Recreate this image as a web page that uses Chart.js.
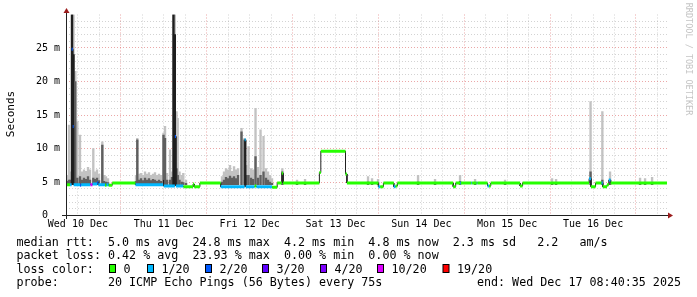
<!DOCTYPE html>
<html>
<head>
<meta charset="utf-8">
<script src="https://cdn.jsdelivr.net/npm/chart.js@4.4.1/dist/chart.umd.min.js"></script>
<style>
  html, body { margin: 0; padding: 0; background: #fff; }
  canvas { display: block; }
</style>
</head>
<body>
<canvas id="smoke" width="697" height="297"></canvas>
<script>
// x is hours since Wed 10 Dec 00:00, y is ms
const startHour = 8.67;
const endHour = 176.67;
const dayLabels = ["Wed 10 Dec", "Thu 11 Dec", "Fri 12 Dec", "Sat 13 Dec", "Sun 14 Dec", "Mon 15 Dec", "Tue 16 Dec"];
const yLabelValues = [0, 5, 10, 15, 20, 25];
const yLabels = ["0  ", "5 m", "10 m", "15 m", "20 m", "25 m"];

// median rtt as steps: start hour, value (ms), lost pings out of 20
const medianStart = [8.67, 9.8, 10.25, 10.55, 10.8, 12.6, 12.9, 15.5, 16.1, 17.4, 17.7, 19.6, 20.0, 20.6, 21.6,
  28.1, 35.8, 36.0, 39.1, 39.4, 41.5, 44.2, 44.5, 46.1,
  51.9, 58.6, 58.9, 61.4, 61.9, 66.3, 67.7, 69.0, 69.35,
  79.5, 79.9, 86.8, 87.2, 96.0, 96.5, 97.4, 100.3, 100.8, 101.3,
  116.9, 117.6, 118.9, 119.1, 122.0, 122.2, 123.5, 123.7, 126.5, 126.9, 127.4, 135.6, 136.3,
  154.9, 155.4, 156.7, 158.4, 158.7, 159.9, 160.4, 160.9];
const medianValue = [4.6, 4.6, 24.8, 13.3, 4.6, 4.5, 4.6, 4.6, 4.7, 4.9, 4.6, 4.5, 4.6, 4.5, 4.85,
  4.6, 5.3, 4.4, 11.8, 4.4, 4.3, 4.7, 4.3, 4.85,
  4.3, 11.3, 4.3, 4.4, 4.3, 4.2, 4.85, 6.3, 4.85,
  6.4, 9.6, 6.2, 4.85, 4.3, 4.3, 4.85, 4.3, 4.4, 4.85,
  4.3, 4.85, 4.85, 4.85, 4.85, 4.85, 4.85, 4.85, 4.4, 4.4, 4.85, 4.4, 4.85,
  5.5, 4.3, 4.85, 4.85, 4.3, 4.6, 5.3, 4.85];
const medianLoss = [0, 1, 2, 2, 1, 2, 1, 10, 1, 2, 1, 0, 1, 0, 0,
  1, 2, 1, 2, 1, 0, 0, 0, 0,
  1, 1, 1, 0, 1, 0, 0, 0, 0,
  0, 0, 0, 0, 1, 0, 0, 1, 0, 0,
  0, 0, 1, 0, 1, 0, 1, 0, 1, 0, 0, 0, 0,
  1, 0, 0, 1, 0, 0, 1, 0];

// smoke: hour, highest ping (ms), top of the dense part (ms)
const smokeHour = [8.95, 9.51, 9.93, 10.35, 10.77, 11.27, 11.83, 12.58, 13.14, 13.7, 14.26, 14.82, 15.38, 16.3, 16.78, 17.34, 17.9, 18.82, 19.29, 19.85, 20.41,
  28.24, 28.6, 29.08, 29.64, 30.2, 30.76, 31.31, 31.87, 32.43, 32.99, 33.55, 34.11, 34.67, 35.23, 35.93, 36.35, 36.91, 37.75, 38.3, 38.72, 39.09, 39.57, 39.9, 40.4, 41.02, 41.46, 42.22,
  52.28, 52.84, 53.4, 53.96, 54.52, 55.08, 55.64, 56.2, 56.76, 57.73, 58.57, 59.13, 59.69, 60.39, 60.95, 61.65, 62.35, 63.05, 63.88, 64.58, 65.14, 65.7, 66.26,
  69.14, 73.25, 75.49, 93.1, 94.22, 95.9, 107.08, 111.83, 118.82, 123.02, 131.4, 144.54, 145.66, 155.3, 158.6, 160.75, 169.14, 170.54, 172.5];
const smokeMax = [6.0, 13.5, 6.5, 30, 30, 21.5, 14, 12, 6.5, 6.8, 6.6, 7.2, 6.8, 10, 6.5, 6.8, 6.2, 11, 6.0, 5.8, 5.5,
  6.0, 11.5, 6.2, 6.3, 6.0, 6.5, 6.2, 6.4, 6.0, 6.2, 6.4, 6.0, 6.2, 6.0, 12.3, 13.3, 6.3, 9.8, 6.5, 30, 30, 15.5, 14.5, 6.5, 6.0, 6.3, 5.3,
  5.8, 6.5, 7.0, 6.8, 7.5, 6.6, 7.3, 6.8, 7.0, 13, 11.5, 7.5, 10.3, 7.0, 6.8, 16, 7.2, 12.8, 11.8, 7.0, 6.5, 6.0, 5.5,
  7.0, 5.3, 5.4, 5.8, 5.5, 5.4, 6.0, 5.4, 6.0, 5.4, 5.3, 5.5, 5.4, 17, 15.5, 6.5, 5.6, 5.5, 5.7];
const smokeDense = [5.1, 5.3, 5.3, 30, 24, 20, 5.6, 5.8, 5.3, 5.6, 5.4, 5.8, 5.3, 5.6, 5.4, 5.6, 5.2, 10.5, 5.1, 5.0, 4.9,
  5.1, 11.3, 5.3, 5.5, 5.2, 5.6, 5.3, 5.5, 5.2, 5.4, 5.3, 5.1, 5.3, 5.1, 12, 11.5, 5.3, 5.3, 5.7, 30, 27, 7, 6, 5.3, 5.0, 4.9, 4.8,
  5.0, 5.3, 5.7, 5.5, 5.9, 5.6, 5.8, 5.5, 6.0, 12.5, 11.3, 6.0, 6.0, 5.6, 5.4, 8.8, 5.6, 6.0, 6.5, 5.6, 5.3, 5.0, 4.8,
  6.5, 4.9, 4.9, 5.0, 4.9, 4.9, 5.0, 4.9, 5.1, 4.9, 4.9, 4.9, 4.9, 6.5, 5.3, 5.3, 4.9, 4.9, 4.9];
const smokeFloor = 4.6;

const lossSteps = [0, 1, 2, 3, 4, 10, 19];
const lossLabels = ["0", "1/20", "2/20", "3/20", "4/20", "10/20", "19/20"];
const lossColors = ["#26ff00", "#00b8ff", "#0059ff", "#5e00ff", "#7e00ff", "#dd00ff", "#ff0000"];

const legendLines = [
  "median rtt:  5.0 ms avg  24.8 ms max  4.2 ms min  4.8 ms now  2.3 ms sd   2.2   am/s",
  "packet loss: 0.42 % avg  23.93 % max  0.00 % min  0.00 % now",
  "loss color:",
  "probe:       20 ICMP Echo Pings (56 Bytes) every 75s"
];
const endText = "end: Wed Dec 17 08:40:35 2025";

const minorGrid = "rgba(150,150,150,0.42)";
const majorGrid = "rgba(215,80,80,0.5)";
const mono = "'DejaVu Sans Mono', monospace";

function lossColor(n) {
  let c = lossColors[0];
  lossSteps.forEach((s, k) => { if (n >= s) c = lossColors[k]; });
  return c;
}

// each step becomes a flat piece, joined by vertical pieces
const medianPts = [];
for (let i = 0; i < medianStart.length; i++) {
  const t1 = i + 1 < medianStart.length ? medianStart[i + 1] : endHour;
  medianPts.push({ x: medianStart[i], y: medianValue[i] }, { x: t1, y: medianValue[i] });
}

const smokeOuter = smokeHour.map((h, i) => ({ x: h, y: [smokeFloor, smokeMax[i]] }));
const smokeInner = smokeHour.map((h, i) => ({ x: h, y: [smokeFloor, smokeDense[i]] }));

const frame = {
  id: "frame",
  beforeDraw(chart) {
    const ctx = chart.ctx;
    ctx.save();
    ctx.fillStyle = "#fff";
    ctx.fillRect(0, 0, chart.width, chart.height);
    ctx.restore();
  },
  afterDraw(chart) {
    const ctx = chart.ctx;
    const a = chart.chartArea;
    ctx.save();
    // axes
    ctx.strokeStyle = "#222";
    ctx.lineWidth = 1;
    ctx.beginPath();
    ctx.moveTo(a.left - 4, 215.5);
    ctx.lineTo(a.right + 1, 215.5);
    ctx.moveTo(66.5, a.top - 2);
    ctx.lineTo(66.5, 219);
    ctx.stroke();
    ctx.fillStyle = "#9b1c1c";
    ctx.beginPath();
    ctx.moveTo(a.right + 1, 212.5);
    ctx.lineTo(a.right + 6, 215.5);
    ctx.lineTo(a.right + 1, 218.5);
    ctx.closePath();
    ctx.fill();
    ctx.beginPath();
    ctx.moveTo(63.5, 13);
    ctx.lineTo(66.5, 8);
    ctx.lineTo(69.5, 13);
    ctx.closePath();
    ctx.fill();

    // y title
    ctx.fillStyle = "#000";
    ctx.font = "11px " + mono;
    ctx.textAlign = "center";
    ctx.textBaseline = "middle";
    ctx.save();
    ctx.translate(11, 114);
    ctx.rotate(-Math.PI / 2);
    ctx.fillText("Seconds", 0, 0);
    ctx.restore();

    // watermark
    ctx.save();
    ctx.fillStyle = "#c4c4c4";
    ctx.font = "8.5px " + mono;
    ctx.translate(688, 59);
    ctx.rotate(Math.PI / 2);
    ctx.fillText("RRDTOOL / TOBI OETIKER", 0, 0);
    ctx.restore();

    // legend
    ctx.font = "11.7px " + mono;
    ctx.textAlign = "left";
    ctx.textBaseline = "alphabetic";
    const base = [245.8, 259.2, 272.6, 286];
    legendLines.forEach((t, i) => ctx.fillText(t, 16.5, base[i]));
    ctx.textAlign = "right";
    ctx.fillText(endText, 681, base[3]);
    ctx.textAlign = "left";
    const swatchX = [109, 147, 205, 262, 320, 377, 442.5];
    lossLabels.forEach((lab, i) => {
      ctx.fillStyle = "#000";
      ctx.fillRect(swatchX[i], 264, 7, 9);
      ctx.fillStyle = lossColors[i];
      ctx.fillRect(swatchX[i] + 1, 265, 5, 7);
      ctx.fillStyle = "#000";
      ctx.fillText(lab, swatchX[i] + 14.5, base[2]);
    });
    ctx.restore();
  }
};

Chart.defaults.font.family = mono;
Chart.defaults.color = "#000";

new Chart(document.getElementById("smoke"), {
  data: {
    datasets: [
      {
        type: "line",
        data: medianPts,
        borderWidth: 3,
        borderCapStyle: "butt",
        pointRadius: 0,
        order: 1,
        segment: {
          borderColor: c => c.p0.parsed.x === c.p1.parsed.x ? "rgba(0,0,0,0)" : lossColor(medianLoss[Math.floor(c.p0DataIndex / 2)])
        }
      },
      {
        type: "line",
        data: medianPts,
        borderColor: "#202020",
        borderWidth: 1,
        pointRadius: 0,
        order: 2
      },
      {
        type: "bar",
        data: smokeInner,
        backgroundColor: c => smokeDense[c.dataIndex] > 20 ? "#1e1e1e" : "#5f5f5f",
        barThickness: 1.7,
        grouped: false,
        order: 3
      },
      {
        type: "bar",
        data: smokeOuter,
        backgroundColor: "#c2c2c2",
        barThickness: 1.7,
        grouped: false,
        order: 4
      }
    ]
  },
  options: {
    responsive: false,
    animation: false,
    events: [],
    layout: { padding: { top: 14.5, right: 30, bottom: 63.5, left: 0 } },
    plugins: { legend: { display: false }, tooltip: { enabled: false } },
    scales: {
      x: {
        type: "linear",
        min: startHour,
        max: endHour,
        offset: false,
        afterBuildTicks: s => {
          const t = [];
          for (let v = 12; v <= endHour; v += 6) t.push({ value: v });
          s.ticks = t;
        },
        afterFit: s => { s.height = 18; s.paddingLeft = 0; s.paddingRight = 0; },
        grid: {
          color: c => c.tick && c.tick.value % 24 === 0 ? majorGrid : minorGrid,
          drawTicks: false,
          offset: false
        },
        border: { display: false, dash: [1, 2] },
        ticks: {
          autoSkip: false,
          maxRotation: 0,
          padding: 3,
          font: { size: 10 },
          callback: v => v % 24 === 12 ? dayLabels[(v - 12) / 24] : ""
        }
      },
      y: {
        min: 0,
        max: 30,
        afterBuildTicks: s => {
          const t = [];
          for (let v = 0; v <= 30; v++) t.push({ value: v });
          s.ticks = t;
        },
        afterFit: s => { s.width = 66; s.paddingTop = 0; s.paddingBottom = 0; },
        grid: {
          color: c => {
            const v = c.tick ? c.tick.value : 0;
            if (v === 0 || v === 30) return "rgba(0,0,0,0)";
            return v % 5 === 0 ? majorGrid : minorGrid;
          },
          drawTicks: false
        },
        border: { display: false, dash: [1, 2] },
        ticks: {
          autoSkip: false,
          padding: 6,
          font: { size: 10 },
          callback: v => {
            const k = yLabelValues.indexOf(v);
            return k >= 0 ? yLabels[k] : "";
          }
        }
      }
    }
  },
  plugins: [frame]
});
</script>
</body>
</html>
